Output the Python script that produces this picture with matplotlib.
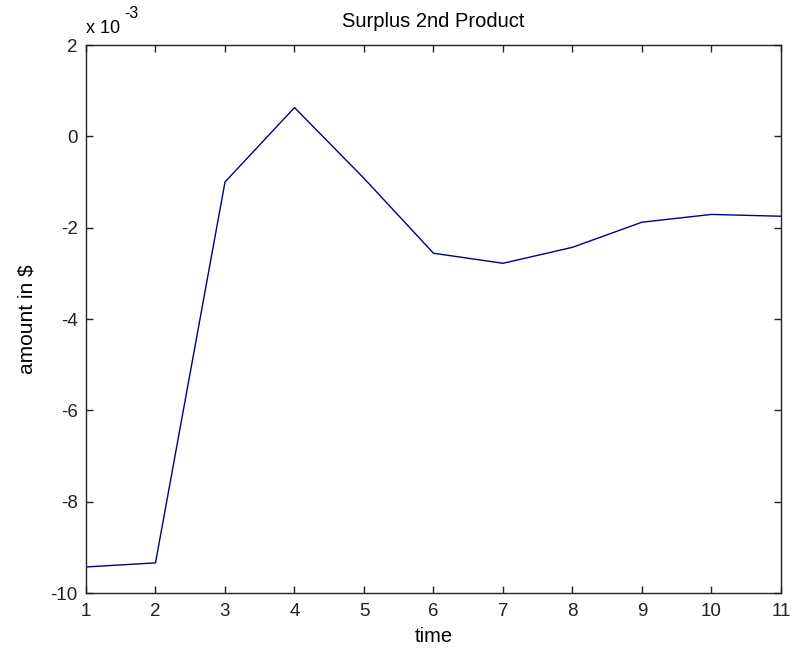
import matplotlib
matplotlib.use("Agg")
import matplotlib.pyplot as plt
from matplotlib.ticker import FuncFormatter

plt.rcParams["font.family"] = ["Liberation Sans", "DejaVu Sans"]

time = [1, 2, 3, 4, 5, 6, 7, 8, 9, 10, 11]
surplus = [-9.43e-3, -9.34e-3, -1.00e-3, 0.63e-3, -0.92e-3, -2.56e-3,
           -2.78e-3, -2.43e-3, -1.88e-3, -1.71e-3, -1.75e-3]
x_ticks = list(range(1, 12))
y_ticks = [-10e-3, -8e-3, -6e-3, -4e-3, -2e-3, 0, 2e-3]

W, H = 803, 650
fig = plt.figure(figsize=(W / 100, H / 100), dpi=100)
ax = fig.add_axes([86 / W, 1 - 593 / H, (781 - 86) / W, (593 - 45) / H])

ax.plot(time, surplus, color="#000080", lw=1.0)

ax.set_xlim(1, 11)
ax.set_ylim(-10e-3, 2e-3)
ax.set_xticks(x_ticks)
ax.set_yticks(y_ticks)
ax.yaxis.set_major_formatter(FuncFormatter(lambda v, p: f"{round(v * 1e3):g}"))

ax.tick_params(direction="in", length=5, width=1, top=True, right=True,
               labelsize=13.5, colors="#222222")
ax.tick_params(axis="x", pad=7)
ax.tick_params(axis="y", pad=6)
for s in ax.spines.values():
    s.set_linewidth(1)
    s.set_color("#222222")

ax.set_title("Surplus 2nd Product", fontsize=14.5, pad=13)
ax.set_xlabel("time", fontsize=14.5, labelpad=5)
ax.set_ylabel("amount in $", fontsize=15, labelpad=10)

# MATLAB-style exponent label above the y axis
fig.text(86 / W, 1 - 33 / H, "x 10", fontsize=13, va="baseline", ha="left")
fig.text(124 / W, 1 - 18 / H, "-3", fontsize=11.5, va="baseline", ha="left")

fig.savefig("out.png", dpi=100)
